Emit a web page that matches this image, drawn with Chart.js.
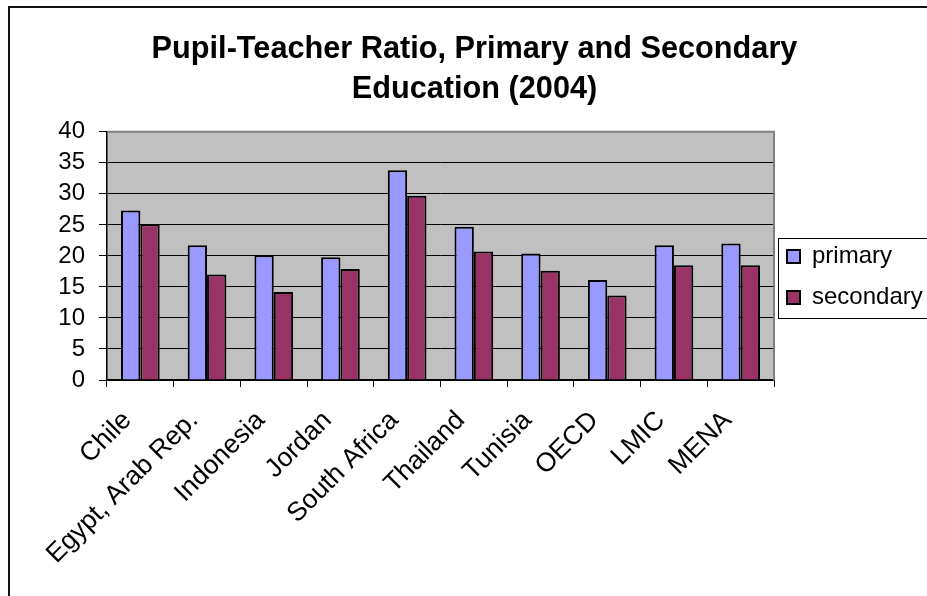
<!DOCTYPE html>
<html>
<head>
<meta charset="utf-8">
<script src="https://cdn.jsdelivr.net/npm/chart.js@4/dist/chart.umd.min.js"></script>
<style>
  html, body { margin: 0; padding: 0; background: #fff; overflow: hidden; }
  #wrap { position: relative; width: 927px; height: 596px; }
</style>
</head>
<body>
<div id="wrap"><canvas id="c" width="927" height="596"></canvas></div>
<script>
const titleLines = ['Pupil-Teacher Ratio, Primary and Secondary', 'Education (2004)'];
const categories = ['Chile', 'Egypt, Arab Rep.', 'Indonesia', 'Jordan', 'South Africa', 'Thailand', 'Tunisia', 'OECD', 'LMIC', 'MENA'];
const primary   = [27.3, 21.7, 20.1, 19.8, 33.8, 24.7, 20.4, 16.1, 21.7, 22.0];
const secondary = [25.1, 17.0, 14.2, 17.9, 29.7, 20.7, 17.6, 13.6, 18.5, 18.5];
const yTicks = [0, 5, 10, 15, 20, 25, 30, 35, 40];

const FONT = 'Arial, "Liberation Sans", sans-serif';
const LEGEND_SHIFT = -21;

const decor = {
  id: 'decor',
  beforeDraw(chart) {
    const { ctx, chartArea: a } = chart;
    ctx.save();
    ctx.fillStyle = '#C0C0C0';
    ctx.fillRect(a.left, a.top, a.right - a.left, a.bottom - a.top);
    ctx.restore();
  },
  afterLayout(chart) {
    const lg = chart.legend;
    const a = chart.chartArea;
    const w = lg.right - lg.left;
    lg.left = a.right - 4;
    lg.right = lg.left + w;
    lg.top += LEGEND_SHIFT;
    lg.bottom += LEGEND_SHIFT;
  },
  afterDraw(chart) {
    const { ctx, chartArea: a } = chart;
    ctx.save();
    ctx.strokeStyle = '#808080';
    ctx.lineWidth = 2;
    ctx.beginPath();
    ctx.moveTo(a.left, a.top);
    ctx.lineTo(a.right, a.top);
    ctx.lineTo(a.right, a.bottom);
    ctx.stroke();
    const lg = chart.legend;
    const cy = Math.round((lg.top + lg.bottom) / 2 + 2);
    ctx.strokeStyle = '#000';
    ctx.lineWidth = 1;
    ctx.strokeRect(a.right + 4.5, cy - 40.5, 200, 80);
    ctx.lineWidth = 2;
    ctx.strokeStyle = '#111';
    ctx.strokeRect(9, 7, 1000, 700);
    ctx.restore();
  }
};

new Chart(document.getElementById('c'), {
  type: 'bar',
  data: {
    labels: categories,
    datasets: [
      { label: 'primary', data: primary, backgroundColor: '#9999FF', borderColor: '#000', borderWidth: 2,
        categoryPercentage: 0.58, barPercentage: 1.0 },
      { label: 'secondary', data: secondary, backgroundColor: '#993366', borderColor: '#000', borderWidth: 2,
        categoryPercentage: 0.58, barPercentage: 1.0 }
    ]
  },
  options: {
    responsive: false,
    animation: false,
    layout: { padding: { left: 22, right: 0, top: 0, bottom: 0 } },
    plugins: {
      title: {
        display: true,
        text: titleLines,
        color: '#000',
        font: { family: FONT, size: 30.7, weight: 'bold', lineHeight: 1.3 },
        padding: { top: 30, bottom: 22 }
      },
      legend: {
        position: 'right',
        align: 'center',
        maxWidth: 153,
        labels: {
          color: '#000',
          font: { family: FONT, size: 24 },
          boxWidth: 13,
          boxHeight: 13,
          padding: 17
        }
      },
      tooltip: { enabled: false }
    },
    scales: {
      x: {
        offset: true,
        grid: { display: true, drawOnChartArea: false, drawTicks: true, tickLength: 7, color: '#000', lineWidth: 1, offset: true },
        border: { display: true, color: '#000', width: 1.5 },
        ticks: { color: '#000', font: { family: FONT, size: 26.5 }, maxRotation: 45, minRotation: 45, autoSkip: false,
                 padding: 18, labelOffset: -13 },
        afterFit(scale) { scale.height = 216; }
      },
      y: {
        min: 0,
        max: 40,
        afterBuildTicks(scale) { scale.ticks = yTicks.map(v => ({ value: v })); },
        grid: {
          color: (c) => (c.tick && c.tick.value === 40 ? '#808080' : '#000'),
          tickColor: '#000',
          lineWidth: 1,
          drawTicks: true,
          tickLength: 8
        },
        border: { display: true, color: '#000', width: 1.5 },
        ticks: { color: '#000', font: { family: FONT, size: 24 }, padding: 14, autoSkip: false },
        afterFit(scale) { scale.width = 85; }
      }
    }
  },
  plugins: [decor]
});
</script>
</body>
</html>
